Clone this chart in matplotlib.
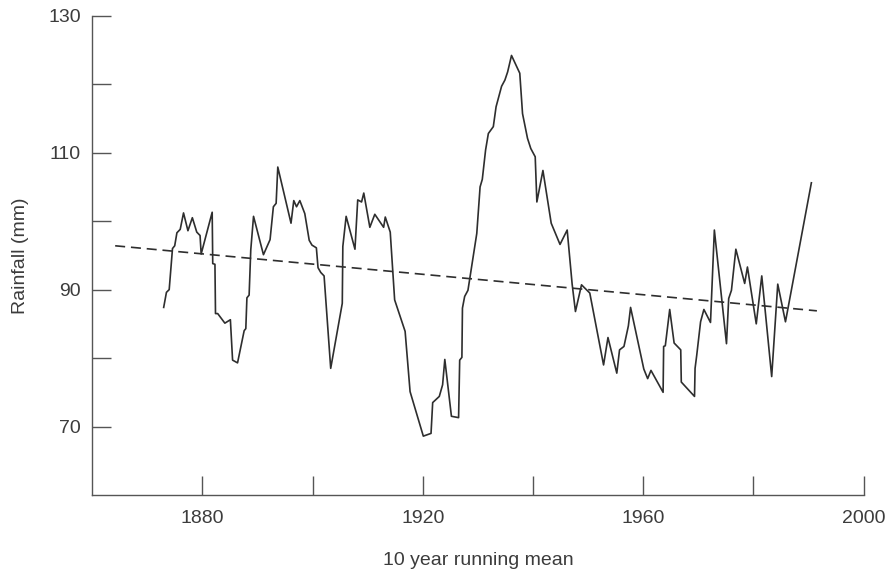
import matplotlib
matplotlib.use("Agg")
import matplotlib.pyplot as plt

# 10 year running mean of rainfall, read year by year
years = [1873.0, 1873.5, 1874.0, 1874.6, 1875.0, 1875.4, 1876.0, 1876.6, 1877.4, 1878.2,
         1879.0, 1879.6, 1879.8, 1881.8, 1881.9, 1882.3, 1882.4, 1882.8, 1884.1, 1885.1,
         1885.5, 1886.4, 1887.6, 1887.9, 1888.1, 1888.5, 1888.8, 1889.3, 1891.1, 1892.3,
         1892.9, 1893.4, 1893.7, 1896.1, 1896.6, 1897.1, 1897.7, 1898.6, 1899.4, 1899.9,
         1900.7, 1901.0, 1901.5, 1902.1, 1903.3, 1905.4, 1905.5, 1906.1, 1907.7, 1908.2,
         1908.9, 1909.3, 1910.4, 1911.3, 1912.9, 1913.2, 1914.1, 1914.9, 1916.8, 1917.7,
         1920.1, 1921.5, 1921.8, 1923.0, 1923.6, 1924.0, 1925.2, 1926.5, 1926.7, 1927.1,
         1927.2, 1927.6, 1928.2, 1929.8, 1930.4, 1930.8, 1931.4, 1931.9, 1932.8, 1933.3,
         1934.3, 1934.9, 1935.4, 1936.1, 1937.6, 1938.1, 1939.0, 1939.6, 1940.4, 1940.7,
         1941.8, 1943.3, 1944.9, 1946.2, 1947.1, 1947.7, 1948.8, 1950.3, 1952.8, 1953.6,
         1955.2, 1955.7, 1956.5, 1957.3, 1957.7, 1960.1, 1960.8, 1961.4, 1963.6, 1963.7,
         1964.0, 1964.8, 1965.6, 1966.8, 1966.9, 1969.3, 1969.4, 1969.7, 1970.4, 1971.0,
         1972.2, 1972.9, 1975.1, 1975.5, 1976.0, 1976.8, 1978.4, 1978.9, 1980.5, 1981.5,
         1983.3, 1984.4, 1985.8, 1990.5]
rainfall = [87.4, 89.6, 90.0, 96.0, 96.4, 98.3, 98.8, 101.2, 98.6, 100.5,
            98.4, 97.9, 95.2, 101.3, 93.8, 93.7, 86.5, 86.5, 85.1, 85.6,
            79.7, 79.3, 84.0, 84.3, 88.8, 89.2, 95.8, 100.7, 95.1, 97.3,
            102.1, 102.6, 107.9, 99.7, 103.0, 102.1, 103.0, 101.1, 97.2, 96.5,
            96.1, 93.2, 92.5, 92.0, 78.5, 88.0, 96.3, 100.7, 95.9, 103.1,
            102.8, 104.1, 99.1, 101.0, 99.1, 100.6, 98.4, 88.5, 83.9, 75.1,
            68.6, 69.0, 73.5, 74.4, 76.1, 79.8, 71.5, 71.3, 79.7, 80.1,
            87.3, 89.0, 89.9, 98.2, 105.0, 106.1, 110.4, 112.8, 113.8, 116.7,
            119.7, 120.6, 121.8, 124.2, 121.6, 115.7, 112.1, 110.6, 109.4, 102.8,
            107.4, 99.7, 96.6, 98.7, 90.8, 86.8, 90.7, 89.5, 79.0, 83.0,
            77.8, 81.2, 81.7, 84.7, 87.4, 78.4, 77.0, 78.2, 75.0, 81.7,
            81.8, 87.1, 82.2, 81.2, 76.5, 74.4, 78.5, 80.4, 85.3, 87.1,
            85.2, 98.7, 82.1, 88.7, 89.9, 95.9, 90.9, 93.3, 85.0, 92.0,
            77.3, 90.8, 85.3, 105.6]

# linear trend, start and end
trend_years = [1864.2, 1991.5]
trend_rain = [96.4, 86.9]

major_x = [1880, 1920, 1960, 2000]
minor_x = [1900, 1940, 1980]
major_y = [70, 90, 110, 130]
minor_y = [80, 100, 120]

plt.rcParams['font.family'] = ['Liberation Sans', 'DejaVu Sans']
ink = '#3c3c3c'

fig = plt.figure(figsize=(8.96, 5.74), dpi=100)
ax = fig.add_axes([0.1027, 0.1376, 0.8613, 0.835])

ax.plot(years, rainfall, color='#2e2e2e', lw=1.2)
ax.plot(trend_years, trend_rain, color='#2e2e2e', lw=1.2, linestyle=(0, (6, 3.5)))

ax.set_xlim(1860, 2000)
ax.set_ylim(60, 130)

ax.set_xticks(major_x)
ax.set_xticks(minor_x, minor=True)
ax.set_yticks(major_y)
ax.set_yticks(minor_y, minor=True)

for s in ['top', 'right']:
    ax.spines[s].set_visible(False)
for s in ['left', 'bottom']:
    ax.spines[s].set_color('#555555')
    ax.spines[s].set_linewidth(1.0)

ax.tick_params(axis='both', which='both', direction='in', length=14,
               width=1.0, color='#555555')
ax.tick_params(axis='y', which='major', labelsize=14, labelcolor=ink, pad=8)
ax.tick_params(axis='x', which='major', labelsize=14, labelcolor=ink, pad=11)

ax.set_ylabel('Rainfall (mm)', fontsize=14, color=ink, labelpad=14)
ax.set_xlabel('10 year running mean', fontsize=14, color=ink, labelpad=18)

fig.savefig('out.png', dpi=100)
